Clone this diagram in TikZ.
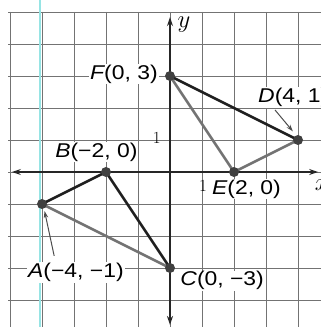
\documentclass[tikz,border=0pt]{standalone}
\usepackage{fontspec}
\newfontfamily\labfont[FakeStretch=1.15]{Liberation Sans}
\usetikzlibrary{arrows.meta}
\definecolor{scancyan}{RGB}{150,228,228}
\begin{document}
\begin{tikzpicture}[x=32bp,y=32bp,
  gridline/.style={draw=black!55, line width=0.8bp},
  axisline/.style={draw=black!85, line width=1.4bp},
  darkseg/.style={draw=black!88, line width=2.6bp},
  grayseg/.style={draw=black!55, line width=2.6bp},
  pt/.style={circle, fill=black!75, inner sep=0pt, minimum size=10bp},
  lab/.style={fill=white, inner sep=1bp, font=\labfont\fontsize{20}{22}\selectfont},
  ticklab/.style={font=\fontsize{17}{18}\selectfont, inner sep=0pt},
  axlab/.style={font=\fontsize{23}{24}\selectfont, inner sep=0pt},
  leader/.style={draw=black!70, line width=1bp, -{Stealth[length=7bp,width=4.5bp]}},
]
\useasboundingbox (-5.3125,-4.84375) rectangle (4.71875,5.375);
\fill[white] (-5.3125,-4.84375) rectangle (4.71875,5.375);
% grid
\foreach \i in {-5,...,4} \draw[gridline] (\i,5) -- (\i,-4.9);
\foreach \j in {-4,...,5} \draw[gridline] (-5.05,\j) -- (4.8,\j);
% scan artefact line
\draw[draw=scancyan, line width=2bp] (-4.0625,5.4) -- (-4.0625,-4.9);
% axes
\coordinate (xl) at (-4.94,0);
\coordinate (xr) at (4.63,0);
\coordinate (yt) at (0,4.84);
\coordinate (yb) at (0,-4.78);
\draw[axisline, {Stealth[length=9bp,width=6bp]}-{Stealth[length=9bp,width=6bp]}] (xl) -- (xr);
\draw[axisline, {Stealth[length=9bp,width=6bp]}-{Stealth[length=9bp,width=6bp]}] (yb) -- (yt);
\node[axlab] (ylab) at (0.44,4.62) {$y$};
\node[axlab, anchor=west] (xlab) at (4.52,-0.40) {$x$};
\node[ticklab] (t1x) at (1.03,-0.44) {1};
\node[ticklab] (t1y) at (-0.41,1.06) {1};
% points
\coordinate (A) at (-4,-1);
\coordinate (B) at (-2,0);
\coordinate (C) at (0,-3);
\coordinate (D) at (4,1);
\coordinate (E) at (2,0);
\coordinate (F) at (0,3);
% labels
\node[lab] (Fl) at (-1.44,3.06) {\itshape F\upshape(0, 3)};
\node[lab] (Bl) at (-2.30,0.62) {\itshape B\upshape(−2, 0)};
\node[lab] (Al) at (-2.94,-3.14) {\itshape A\upshape(−4, −1)};
\node[lab] (Cl) at (1.63,-3.40) {\itshape C\upshape(0, −3)};
\node[lab] (El) at (2.39,-0.53) {\itshape E\upshape(2, 0)};
\node[lab, anchor=west] (Dl) at (2.72,2.33) {\itshape D\upshape(4, 1)};
% segments
\draw[grayseg] (A) -- (C);
\draw[grayseg] (F) -- (E) -- (D);
\draw[darkseg] (A) -- (B) -- (C);
\draw[darkseg] (F) -- (D);
% leaders
\coordinate (Ast) at (-3.62,-2.62);
\coordinate (Aen) at (-3.92,-1.22);
\coordinate (Dst) at (3.28,1.94);
\coordinate (Den) at (3.84,1.27);
\draw[leader] (Ast) -- (Aen);
\draw[leader] (Dst) -- (Den);
% dots
\foreach \p in {A,B,C,D,E,F} \node[pt] (\p dot) at (\p) {};
\end{tikzpicture}
\end{document}
